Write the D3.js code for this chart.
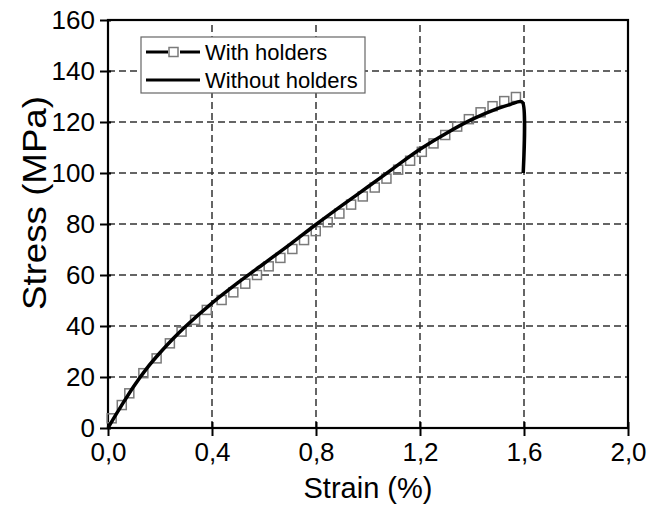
<!DOCTYPE html>
<html>
<head>
<meta charset="utf-8">
<script src="https://cdn.jsdelivr.net/npm/d3@7"></script>
<style>
  html, body { margin: 0; padding: 0; background: #fff; }
  svg { display: block; font-family: "Liberation Sans", Arial, sans-serif; }
</style>
</head>
<body>
<svg id="chart" width="661" height="511"></svg>
<script>
// ---- data ----
const xTickValues = [0, 0.4, 0.8, 1.2, 1.6, 2.0];
const xTickLabels = ["0,0", "0,4", "0,8", "1,2", "1,6", "2,0"];
const yTickValues = [0, 20, 40, 60, 80, 100, 120, 140, 160];
const yTickLabels = ["0", "20", "40", "60", "80", "100", "120", "140", "160"];

const seriesNames = ["With holders", "Without holders"];

// Without holders (solid line)
const strainWithout = [0, 0.02, 0.05, 0.1, 0.15, 0.2, 0.25, 0.3, 0.4, 0.5, 0.6, 0.7, 0.8, 0.9, 1.0, 1.1, 1.2, 1.3, 1.4, 1.5, 1.55, 1.585, 1.595, 1.597];
const stressWithout = [0, 3.5, 8.5, 16.5, 23.5, 29.5, 35, 40, 49, 57, 64.5, 72, 79.8, 87.3, 94.6, 102, 109.3, 115.5, 121, 125.3, 127, 128, 127.6, 100];

// With holders (square markers)
const strainWith = [0.014, 0.053, 0.082, 0.136, 0.187, 0.238, 0.283, 0.335, 0.380, 0.437, 0.482, 0.528, 0.573, 0.618, 0.663, 0.709, 0.754, 0.799, 0.845, 0.890, 0.935, 0.980, 1.026, 1.071, 1.116, 1.162, 1.207, 1.252, 1.297, 1.343, 1.388, 1.433, 1.479, 1.524, 1.569];
const stressWith = [3.8, 9.0, 13.6, 21.5, 27.3, 33.2, 37.8, 42.4, 46.3, 50.2, 53.2, 56.6, 60.0, 63.4, 66.7, 70.2, 73.7, 77.2, 80.7, 84.1, 87.6, 90.8, 94.3, 97.8, 101.3, 104.8, 108.3, 111.6, 114.9, 118.2, 121.1, 123.8, 126.2, 128.2, 129.8];

// ---- layout ----
const svg = d3.select("#chart");
const x = d3.scaleLinear().domain([0, 2]).range([108, 628]);
const y = d3.scaleLinear().domain([0, 160]).range([428, 20]);

// grid
const grid = svg.append("g").attr("stroke", "#333").attr("stroke-width", 1.5).attr("stroke-dasharray", "7,4");
grid.selectAll("line.h").data(yTickValues.filter(v => v > 0 && v < 160)).enter().append("line")
  .attr("x1", x(0)).attr("x2", x(2)).attr("y1", d => y(d)).attr("y2", d => y(d));
grid.selectAll("line.v").data(xTickValues.filter(v => v > 0 && v < 2)).enter().append("line")
  .attr("y1", y(0)).attr("y2", y(160)).attr("x1", d => x(d)).attr("x2", d => x(d));

// frame
svg.append("rect").attr("x", x(0)).attr("y", y(160)).attr("width", x(2) - x(0)).attr("height", y(0) - y(160))
  .attr("fill", "none").attr("stroke", "#000").attr("stroke-width", 2.2);

// axes
const xAxis = d3.axisBottom(x).tickValues(xTickValues).tickFormat((d, i) => xTickLabels[i]).tickSizeInner(8).tickSizeOuter(0).tickPadding(7);
const gx = svg.append("g").attr("transform", `translate(0,${y(0)})`).call(xAxis);
gx.select(".domain").remove();
gx.selectAll(".tick line").attr("stroke", "#000").attr("stroke-width", 2).attr("y1", -6);
gx.selectAll(".tick text").attr("font-size", 26).attr("fill", "#000").attr("font-family", "Liberation Sans, Arial, sans-serif");

const yAxis = d3.axisLeft(y).tickValues(yTickValues).tickFormat((d, i) => yTickLabels[i]).tickSizeInner(8).tickSizeOuter(0).tickPadding(5);
const gy = svg.append("g").attr("transform", `translate(${x(0)},0)`).call(yAxis);
gy.select(".domain").remove();
gy.selectAll(".tick line").attr("stroke", "#000").attr("stroke-width", 2).attr("x1", 3);
gy.selectAll(".tick text").attr("font-size", 26).attr("fill", "#000").attr("font-family", "Liberation Sans, Arial, sans-serif");

// titles
svg.append("text").attr("x", 368).attr("y", 498).attr("text-anchor", "middle").attr("font-size", 29).text("Strain (%)");
svg.append("text").attr("transform", "translate(46,203) rotate(-90)").attr("text-anchor", "middle").attr("font-size", 33)
  .attr("textLength", 214).attr("lengthAdjust", "spacingAndGlyphs").text("Stress (MPa)");

// markers (With holders)
const withData = strainWith.map((s, i) => [s, stressWith[i]]);
const ms = 9;
svg.append("g").selectAll("rect").data(withData).enter().append("rect")
  .attr("x", d => x(d[0]) - ms / 2).attr("y", d => y(d[1]) - ms / 2)
  .attr("width", ms).attr("height", ms)
  .attr("fill", "none").attr("stroke", "#7a7a7a").attr("stroke-width", 1.5);

// line (Without holders)
const withoutData = strainWithout.map((s, i) => [s, stressWithout[i]]);
const line = d3.line().x(d => x(d[0])).y(d => y(d[1])).curve(d3.curveCatmullRom.alpha(0.5));
svg.append("path").datum(withoutData).attr("d", line)
  .attr("fill", "none").attr("stroke", "#000").attr("stroke-width", 3.5).attr("stroke-linejoin", "round");

// legend
const lg = svg.append("g");
lg.append("rect").attr("x", 141).attr("y", 37).attr("width", 224).attr("height", 56)
  .attr("fill", "#fff").attr("stroke", "#666").attr("stroke-width", 1.2);
// row 1
lg.append("line").attr("x1", 146).attr("x2", 168).attr("y1", 52).attr("y2", 52).attr("stroke", "#000").attr("stroke-width", 3);
lg.append("line").attr("x1", 180).attr("x2", 200).attr("y1", 52).attr("y2", 52).attr("stroke", "#000").attr("stroke-width", 3);
lg.append("rect").attr("x", 169).attr("y", 47.5).attr("width", ms).attr("height", ms)
  .attr("fill", "#fff").attr("stroke", "#7a7a7a").attr("stroke-width", 1.5);
lg.append("text").attr("x", 205).attr("y", 52).attr("dy", "0.35em").attr("font-size", 22).text(seriesNames[0]);
// row 2
lg.append("line").attr("x1", 146).attr("x2", 200).attr("y1", 80).attr("y2", 80).attr("stroke", "#000").attr("stroke-width", 3);
lg.append("text").attr("x", 205).attr("y", 80).attr("dy", "0.35em").attr("font-size", 22).text(seriesNames[1]);
</script>
</body>
</html>
